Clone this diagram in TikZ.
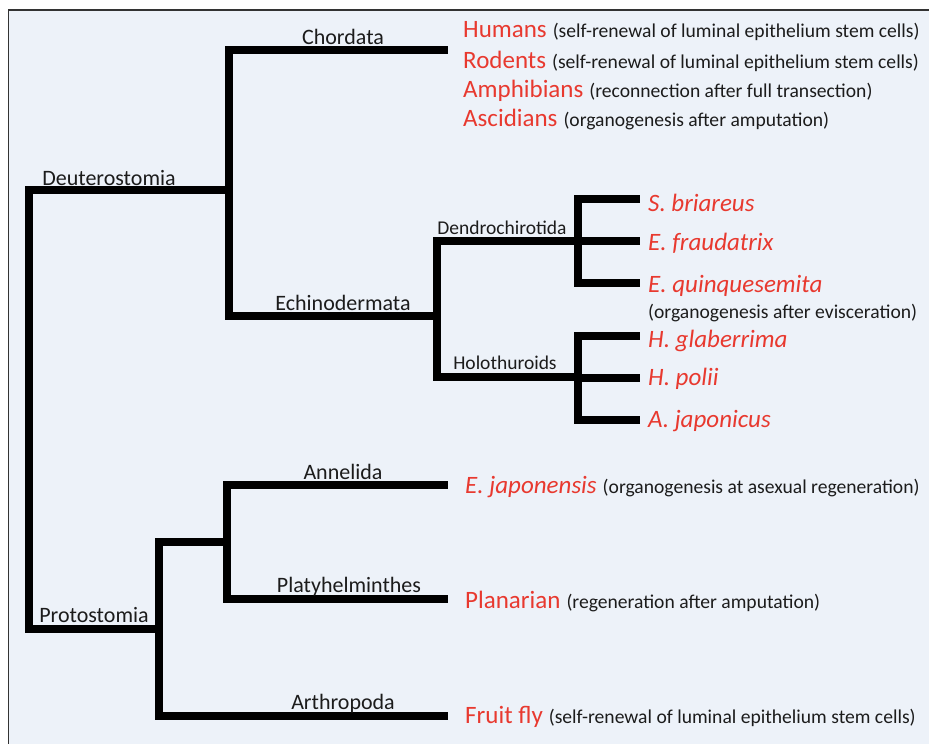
\documentclass[tikz,border=0pt]{standalone}
\usepackage{fontspec}
\setmainfont{Carlito}
\usepackage{xcolor}
\definecolor{panelbg}{HTML}{EDF2F9}
\definecolor{taxred}{HTML}{E8392F}
\definecolor{inktext}{HTML}{1C1C1C}
\newcommand{\spname}[1]{{\color{taxred}\fontsize{25}{30}\selectfont #1}}
\newcommand{\regnote}[1]{{\fontsize{19.6}{24}\selectfont #1}}

\begin{document}
\begin{tikzpicture}[x=1pt,y=-1pt,
  branch/.style={line width=8pt,black},
  clade/.style={anchor=base,inner sep=0pt,text=inktext,font=\fontsize{22}{26}\selectfont},
  subclade/.style={clade,font=\fontsize{19.5}{23}\selectfont},
  leaf/.style={anchor=base west,inner sep=0pt,text=inktext}]
\useasboundingbox (0,0) rectangle (929,744);
\fill[panelbg] (8.5,10) rectangle (929,744);
\draw[line width=1.5pt,black!80] (8.5,744) -- (8.5,10) -- (929,10);

\coordinate (root) at (28.5,400);
\coordinate (deut) at (228.5,190);
\coordinate (prot) at (159,629);
\coordinate (chordL) at (448,50);
\coordinate (echi) at (437,316);
\coordinate (dendro) at (578,241);
\coordinate (holo) at (578,377);
\coordinate (sbriL) at (640,199);
\coordinate (efraL) at (640,241);
\coordinate (equiL) at (640,283);
\coordinate (hglaL) at (640,336);
\coordinate (hpolL) at (640,378);
\coordinate (ajapL) at (640,420);
\coordinate (annpla) at (227,542);
\coordinate (anneL) at (448,485);
\coordinate (plaL) at (448,599);
\coordinate (arthL) at (448,716);

\draw[branch] (root) |- (deut);
\draw[branch] (root) |- (prot);
\draw[branch] (deut) |- (chordL);
\draw[branch] (deut) |- (echi);
\draw[branch] (echi) |- (dendro);
\draw[branch] (echi) |- (holo);
\draw[branch] (dendro) |- (sbriL);
\draw[branch] (dendro) |- (efraL);
\draw[branch] (dendro) |- (equiL);
\draw[branch] (holo) |- (hglaL);
\draw[branch] (holo) |- (hpolL);
\draw[branch] (holo) |- (ajapL);
\draw[branch] (prot) |- (annpla);
\draw[branch] (annpla) |- (anneL);
\draw[branch] (annpla) |- (plaL);
\draw[branch] (prot) |- (arthL);

\node[clade] (deuttext) at (109,185) {Deuterostomia};
\node[clade] (chordtext) at (343,44) {Chordata};
\node[clade] (echitext) at (343,310) {Echinodermata};
\node[subclade] (dendrotext) at (502,234) {Dendrochirotida};
\node[subclade] (holotext) at (505,369) {Holothuroids};
\node[clade] (prottext) at (94,622) {Protostomia};
\node[clade] (annetext) at (343,479) {Annelida};
\node[clade] (platext) at (349,592) {Platyhelminthes};
\node[clade] (arthtext) at (343,709) {Arthropoda};

\node[leaf] (humans) at (463,37) {\spname{Humans}\hspace{6pt}\regnote{(self-renewal of luminal epithelium stem cells)}};
\node[leaf] (rodents) at (463,68) {\spname{Rodents}\hspace{6pt}\regnote{(self-renewal of luminal epithelium stem cells)}};
\node[leaf] (amphib) at (463,97) {\spname{Amphibians}\hspace{6pt}\regnote{(reconnection after full transection)}};
\node[leaf] (ascid) at (463,126) {\spname{Ascidians}\hspace{6pt}\regnote{(organogenesis after amputation)}};
\node[leaf] (sbri) at (648,211) {\spname{\itshape S. briareus}};
\node[leaf] (efra) at (648,250) {\spname{\itshape E. fraudatrix}};
\node[leaf] (equi) at (648,292) {\spname{\itshape E. quinquesemita}};
\node[leaf] (equinote) at (648,318) {\regnote{(organogenesis after evisceration)}};
\node[leaf] (hgla) at (648,347) {\spname{\itshape H. glaberrima}};
\node[leaf] (hpol) at (648,385) {\spname{\itshape H. polii}};
\node[leaf] (ajap) at (648,427) {\spname{\itshape A. japonicus}};
\node[leaf] (ejap) at (465,493) {\spname{\itshape E. japonensis}\hspace{6pt}\regnote{(organogenesis at asexual regeneration)}};
\node[leaf] (plan) at (465,608) {\spname{Planarian}\hspace{6pt}\regnote{(regeneration after amputation)}};
\node[leaf] (fly) at (465,723) {\spname{Fruit fly}\hspace{6pt}\regnote{(self-renewal of luminal epithelium stem cells)}};
\end{tikzpicture}
\end{document}
